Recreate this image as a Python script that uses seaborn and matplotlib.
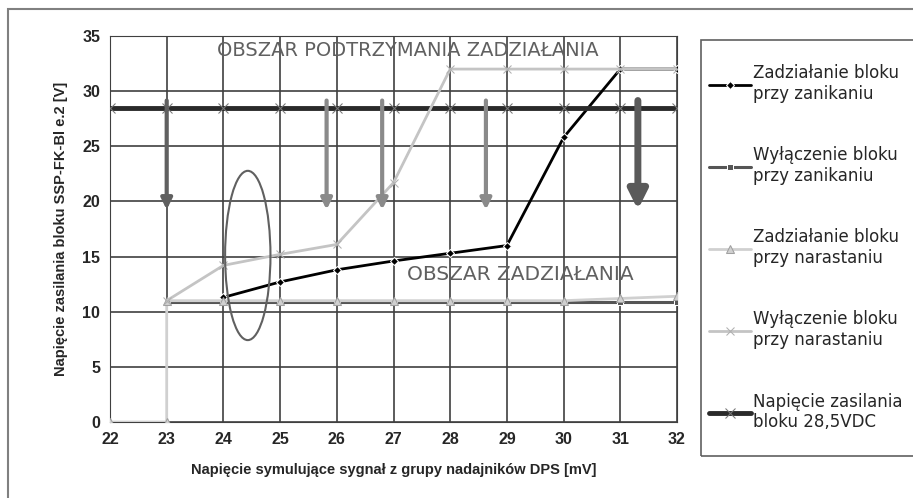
import matplotlib
matplotlib.use("Agg")
import matplotlib.pyplot as plt
import seaborn as sns
from matplotlib.patches import Ellipse, Rectangle

sns.set_style("white")
plt.rcParams['font.family'] = ['DejaVu Sans']

# dane
x_zanik = [24, 25, 26, 27, 28, 29, 30, 31, 32]
y_zadz_zanik = [11.3, 12.7, 13.8, 14.6, 15.3, 16.0, 25.8, 32.0, 32.0]

x_wyl_zanik = [23, 24, 25, 26, 27, 28, 29, 30, 31, 32]
y_wyl_zanik = [10.9, 10.9, 10.9, 10.9, 10.9, 10.9, 10.9, 10.9, 10.9, 10.9]

x_zadz_nar = [22, 23, 23, 24, 25, 26, 27, 28, 29, 30, 31, 32]
y_zadz_nar = [0, 0, 11.0, 11.0, 11.0, 11.0, 11.0, 11.0, 11.0, 11.0, 11.2, 11.4]

x_wyl_nar = [23, 24, 25, 26, 27, 28, 29, 30, 31, 32]
y_wyl_nar = [11.0, 14.2, 15.2, 16.1, 21.7, 32.0, 32.0, 32.0, 32.0, 32.0]

x_zasil = [22, 23, 24, 25, 26, 27, 28, 29, 30, 31, 32]
y_zasil = [28.5] * 11

etykiety = ["Zadziałanie bloku\nprzy zanikaniu",
            "Wyłączenie bloku\nprzy zanikaniu",
            "Zadziałanie bloku\nprzy narastaniu",
            "Wyłączenie bloku\nprzy narastaniu",
            "Napięcie zasilania\nbloku 28,5VDC"]

# strzalki w dol
strzalki_x = [23.0, 25.82, 26.8, 28.63, 31.31]
strzalki_kolor = ["#606060", "#8a8a8a", "#8a8a8a", "#8a8a8a", "#5a5a5a"]

fig = plt.figure(figsize=(9.13, 4.98), dpi=100)
ax = fig.add_axes([110 / 913, 76 / 498, 567 / 913, 386 / 498])

# ramka wokol calego rysunku
fig.patches.append(Rectangle((8 / 913, -0.1), 1.0, 1 - 9 / 498 + 0.1,
                             transform=fig.transFigure, fill=False,
                             edgecolor="#808080", linewidth=1.5))
# ramka legendy (wychodzi poza prawa krawedz jak w oryginale)
fig.patches.append(Rectangle((701 / 913, 1 - 456 / 498), 0.3, 416 / 498,
                             transform=fig.transFigure, fill=False,
                             edgecolor="#606060", linewidth=1.2))

sns.lineplot(x=x_zanik, y=y_zadz_zanik, ax=ax, color="black", lw=2,
             marker="D", markersize=4, sort=False, estimator=None,
             label=etykiety[0], zorder=3)
sns.lineplot(x=x_wyl_zanik, y=y_wyl_zanik, ax=ax, color="#555555", lw=2.2,
             marker="s", markersize=5, sort=False, estimator=None,
             label=etykiety[1], zorder=3)
sns.lineplot(x=x_zadz_nar, y=y_zadz_nar, ax=ax, color="#d0d0d0", lw=2,
             marker="^", markersize=6, sort=False, estimator=None,
             label=etykiety[2], zorder=4, markeredgecolor="#a0a0a0")
sns.lineplot(x=x_wyl_nar, y=y_wyl_nar, ax=ax, color="#c4c4c4", lw=2,
             marker="x", markersize=6, sort=False, estimator=None,
             label=etykiety[3], zorder=4, markeredgecolor="#b0b0b0")
sns.lineplot(x=x_zasil, y=y_zasil, ax=ax, color="#2a2a2a", lw=3.5,
             marker="x", markersize=7, sort=False, estimator=None,
             label=etykiety[4], zorder=3, markeredgecolor="#777777")

for i, (sx, kol) in enumerate(zip(strzalki_x, strzalki_kolor)):
    gruba = i == len(strzalki_x) - 1
    ax.annotate("", xy=(sx, 19.0), xytext=(sx, 29.4),
                arrowprops=dict(arrowstyle="-|>", color=kol,
                                lw=5 if gruba else 3,
                                mutation_scale=28 if gruba else 16),
                zorder=5)

ax.add_patch(Ellipse((24.43, 15.1), 0.8, 15.35, fill=False,
                     edgecolor="#606060", lw=1.5, zorder=6))

ax.text(27.26, 33.7, "OBSZAR PODTRZYMANIA ZADZIAŁANIA", ha="center",
        va="center", fontsize=14, color="#606060", zorder=6)
ax.text(29.23, 13.4, "OBSZAR ZADZIAŁANIA", ha="center", va="center",
        fontsize=14.5, color="#606060", zorder=6)

ax.set_xlim(22, 32)
ax.set_ylim(0, 35)
ax.set_xticks(range(22, 33))
ax.set_yticks(range(0, 36, 5))
ax.grid(True, color="#404040", lw=1.2)
ax.set_axisbelow(True)
for s in ax.spines.values():
    s.set_color("#404040")
ax.tick_params(labelsize=11.5, length=0, pad=7)
for t in ax.get_xticklabels() + ax.get_yticklabels():
    t.set_fontfamily("Liberation Sans")
    t.set_fontweight("bold")

ax.set_xlabel("Napięcie symulujące sygnał z grupy nadajników DPS [mV]",
              fontsize=10.5, fontweight="bold", family="Liberation Sans",
              labelpad=12)
ax.set_ylabel("Napięcie zasilania bloku SSP-FK-Bl e.2 [V]",
              fontsize=10.5, fontweight="bold", family="Liberation Sans",
              labelpad=10)

uchwyty, napisy = ax.get_legend_handles_labels()
ax.get_legend().remove()
leg = fig.legend(uchwyty, napisy, loc="upper left",
                 bbox_to_anchor=(709 / 913, 1 - 64 / 498),
                 fontsize=12, frameon=False,
                 labelspacing=2.6, handlelength=2.5, handletextpad=0.15,
                 borderpad=0, borderaxespad=0)

fig.savefig("out.png", dpi=100)
